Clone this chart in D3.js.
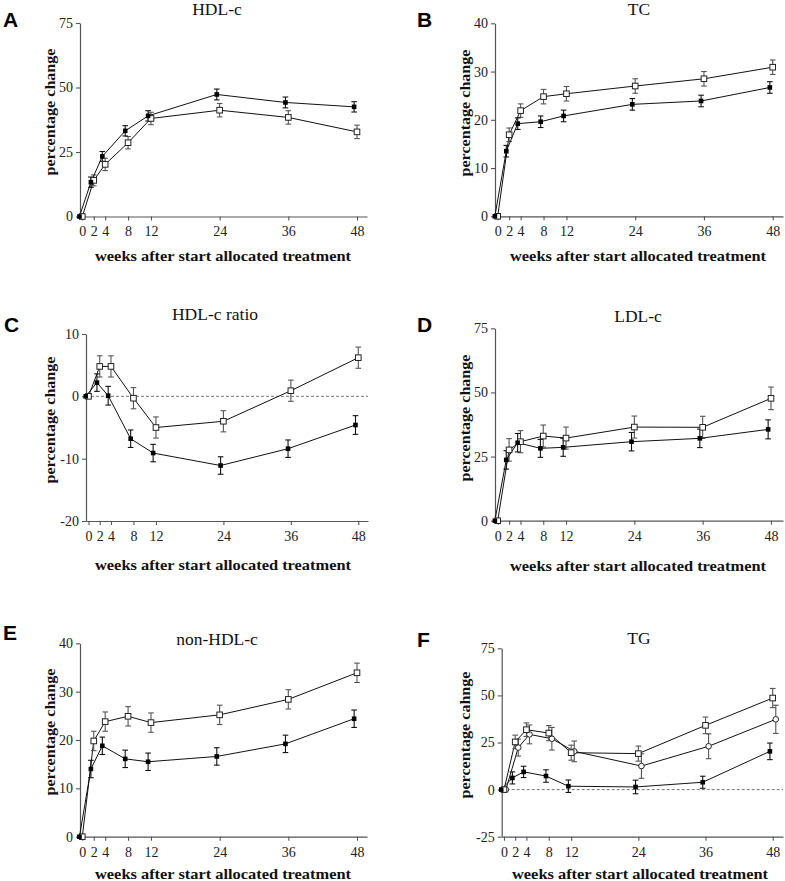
<!DOCTYPE html>
<html><head><meta charset="utf-8">
<script src="https://cdn.jsdelivr.net/npm/d3@7/dist/d3.min.js"></script>
<style>
html,body{margin:0;padding:0;background:#fff;}
svg{display:block;}
</style></head>
<body>
<svg id="chart" width="785" height="881"></svg>
<script>
// ---------- data ----------
const weeks = [0, 2, 4, 8, 12, 24, 36, 48];
const xTickLabels = [0, 2, 4, 8, 12, 24, 36, 48];
const xAxisLabel = "weeks after start allocated treatment";

// A: HDL-c
const hdlFilled    = [0, 13.3, 23.3, 33.2, 39.0, 47.3, 44.2, 42.5];
const hdlFilledErr = [0, 2.0, 1.9, 2.0, 2.0, 2.1, 2.1, 2.0];
const hdlOpen      = [0, 14.0, 20.2, 28.6, 38.0, 41.2, 38.4, 32.8];
const hdlOpenErr   = [0, 2.1, 2.4, 2.4, 2.4, 2.6, 2.6, 2.6];
const hdlYTicks    = [0, 25, 50, 75];

// B: TC
const tcFilled    = [0, 13.5, 19.2, 19.6, 20.8, 23.2, 23.9, 26.7];
const tcFilledErr = [0, 1.2, 1.2, 1.2, 1.2, 1.2, 1.2, 1.2];
const tcOpen      = [0, 16.9, 21.9, 24.8, 25.4, 27.0, 28.5, 30.9];
const tcOpenErr   = [0, 1.4, 1.4, 1.5, 1.5, 1.5, 1.5, 1.5];
const tcYTicks    = [0, 10, 20, 30, 40];

// C: HDL-c ratio
const ratioFilled    = [0, 2.2, 0.1, -6.8, -9.1, -11.1, -8.4, -4.6];
const ratioFilledErr = [0, 1.4, 1.5, 1.4, 1.4, 1.4, 1.4, 1.5];
const ratioOpen      = [0, 4.8, 4.8, -0.3, -5.0, -4.0, 0.9, 6.2];
const ratioOpenErr   = [0, 1.7, 1.7, 1.7, 1.7, 1.7, 1.7, 1.7];
const ratioYTicks    = [-20, -10, 0, 10];

// D: LDL-c
const ldlFilled    = [0, 23.7, 30.4, 28.2, 28.6, 30.8, 32.1, 35.6];
const ldlFilledErr = [0, 3.6, 3.6, 3.5, 3.5, 3.6, 3.6, 3.7];
const ldlOpen      = [0, 27.6, 30.8, 33.0, 32.2, 36.5, 36.4, 47.7];
const ldlOpenErr   = [0, 4.4, 4.3, 4.3, 4.3, 4.3, 4.3, 4.4];
const ldlYTicks    = [0, 25, 50, 75];

// E: non-HDL-c
const nonHdlFilled    = [0, 14.0, 18.8, 16.1, 15.5, 16.6, 19.2, 24.4];
const nonHdlFilledErr = [0, 1.8, 1.8, 1.8, 1.8, 1.8, 1.8, 1.8];
const nonHdlOpen      = [0, 19.8, 23.8, 24.9, 23.6, 25.2, 28.4, 33.9];
const nonHdlOpenErr   = [0, 2.0, 2.0, 2.0, 2.0, 2.0, 2.0, 2.0];
const nonHdlYTicks    = [0, 10, 20, 30, 40];

// F: TG
const tgFilled       = [0, 6.2, 9.4, 7.2, 1.8, 1.4, 3.9, 20.3];
const tgFilledErr    = [0, 3.2, 3.0, 3.3, 3.3, 3.6, 3.2, 4.4];
const tgOpenSq       = [0, 25.3, 31.8, 30.0, 19.6, 19.1, 34.1, 48.6];
const tgOpenSqErr    = [0, 3.6, 3.6, 4.0, 4.0, 4.0, 4.4, 5.1];
const tgOpenCirc     = [0, 22.3, 29.3, 27.0, 20.3, 12.5, 23.0, 37.3];
const tgOpenCircErr  = [0, 4.5, 5.0, 6.0, 5.5, 6.5, 6.6, 7.5];
const tgYTicks       = [-25, 0, 25, 50, 75];

// ---------- layout ----------
const panels = [
  { letter:"A", title:"HDL-c", ylabel:"percentage change", yDomain:[0,75], yTicks:hdlYTicks,
    left:80, x0:82.3, x48:357, right:367, yBottom:216.5, yTop:23,
    letterPos:[3,26.5], titlePos:[217,14.5], ylabPos:[50,112], xlabPos:[223,261], zeroLine:false,
    series:[ {v:hdlOpen, e:hdlOpenErr, type:"sq-open", dodge:0},
             {v:hdlFilled, e:hdlFilledErr, type:"sq-filled", dodge:-0.5} ] },
  { letter:"B", title:"TC", ylabel:"percentage change", yDomain:[0,40], yTicks:tcYTicks,
    left:495, x0:497.7, x48:772.7, right:783, yBottom:216.3, yTop:23.3,
    letterPos:[417,26.5], titlePos:[639,14.5], ylabPos:[465,113], xlabPos:[638,261], zeroLine:false,
    series:[ {v:tcOpen, e:tcOpenErr, type:"sq-open", dodge:0},
             {v:tcFilled, e:tcFilledErr, type:"sq-filled", dodge:-0.5} ] },
  { letter:"C", title:"HDL-c ratio", ylabel:"percentage change", yDomain:[-20,10], yTicks:ratioYTicks,
    left:86, x0:88.5, x48:358.3, right:368, yBottom:521, yTop:334,
    letterPos:[4,332], titlePos:[215,320], ylabPos:[50,420], xlabPos:[223,569.5], zeroLine:true,
    series:[ {v:ratioOpen, e:ratioOpenErr, type:"sq-open", dodge:0},
             {v:ratioFilled, e:ratioFilledErr, type:"sq-filled", dodge:-0.5} ] },
  { letter:"D", title:"LDL-c", ylabel:"percentage change", yDomain:[0,75], yTicks:ldlYTicks,
    left:495, x0:497.7, x48:771, right:783, yBottom:520.7, yTop:328.3,
    letterPos:[417,332], titlePos:[638,321.5], ylabPos:[465,418], xlabPos:[638,570.5], zeroLine:false,
    series:[ {v:ldlOpen, e:ldlOpenErr, type:"sq-open", dodge:0},
             {v:ldlFilled, e:ldlFilledErr, type:"sq-filled", dodge:-0.5} ] },
  { letter:"E", title:"non-HDL-c", ylabel:"percentage change", yDomain:[0,40], yTicks:nonHdlYTicks,
    left:80, x0:82.3, x48:357, right:367, yBottom:836.7, yTop:643.3,
    letterPos:[3,640], titlePos:[217,645], ylabPos:[50,732], xlabPos:[223,879], zeroLine:false,
    series:[ {v:nonHdlOpen, e:nonHdlOpenErr, type:"sq-open", dodge:0},
             {v:nonHdlFilled, e:nonHdlFilledErr, type:"sq-filled", dodge:-0.5} ] },
  { letter:"F", title:"TG", ylabel:"percentage cahnge", yDomain:[-25,75], yTicks:tgYTicks,
    left:501.7, x0:504, x48:772.7, right:783, yBottom:836.7, yTop:648.3,
    letterPos:[417,647], titlePos:[639,644], ylabPos:[465,735], xlabPos:[640,879], zeroLine:true,
    series:[ {v:tgOpenCirc, e:tgOpenCircErr, type:"circ-open", dodge:0.55},
             {v:tgOpenSq, e:tgOpenSqErr, type:"sq-open", dodge:0},
             {v:tgFilled, e:tgFilledErr, type:"sq-filled", dodge:-0.5} ] }
];

const svg = d3.select("#chart");
const SERIF = "'Liberation Serif','Times New Roman',serif";
const SANS = "'Liberation Sans',Arial,sans-serif";
const AXIS_COLOR = "#555";
const plainFmt = d => String(d);

panels.forEach(p => {
  const g = svg.append("g");
  const x = d3.scaleLinear().domain([0,48]).range([p.x0, p.x48]);
  const xa = d3.scaleLinear().domain([x.invert(p.left), x.invert(p.right)]).range([p.left, p.right]);
  const y = d3.scaleLinear().domain(p.yDomain).range([p.yBottom, p.yTop]);

  // axes
  const xAxis = g.append("g").attr("transform", `translate(0,${p.yBottom})`)
    .call(d3.axisBottom(xa).tickValues(xTickLabels).tickFormat(plainFmt).tickSize(4).tickSizeOuter(0).tickPadding(6));
  const yAxis = g.append("g").attr("transform", `translate(${p.left},0)`)
    .call(d3.axisLeft(y).tickValues(p.yTicks).tickFormat(plainFmt).tickSize(4).tickSizeOuter(0).tickPadding(3));
  [xAxis, yAxis].forEach(a => {
    a.attr("font-family", null).attr("font-size", null);
    a.select(".domain").attr("stroke", AXIS_COLOR).attr("stroke-width", 1.2);
    a.selectAll(".tick line").attr("stroke", AXIS_COLOR).attr("stroke-width", 1.1);
    a.selectAll(".tick text").attr("fill", "#222").style("font-family", SERIF).style("font-size", "14px");
  });

  if (p.zeroLine) {
    g.append("line").attr("x1", p.left).attr("x2", p.right)
      .attr("y1", y(0)).attr("y2", y(0))
      .attr("stroke", "#777").attr("stroke-width", 1).attr("stroke-dasharray", "3,2");
  }

  // lines + error bars
  p.series.forEach(s => {
    const pts = weeks.map((w, i) => ({ x: x(w + (i === 0 && s.dodge > 0 ? s.dodge * 0.6 : s.dodge)), v: s.v[i], e: s.e[i] }));
    const barColor = s.type === "sq-filled" ? "#111" : "#555";
    g.append("path").datum(pts)
      .attr("d", d3.line().x(d => d.x).y(d => y(d.v)))
      .attr("fill", "none").attr("stroke", "#111").attr("stroke-width", 1);
    const eb = g.append("g").attr("stroke", barColor).attr("stroke-width", 1.1);
    pts.filter(d => d.e > 0).forEach(d => {
      eb.append("line").attr("x1", d.x).attr("x2", d.x).attr("y1", y(d.v - d.e)).attr("y2", y(d.v + d.e));
      eb.append("line").attr("x1", d.x - 2.8).attr("x2", d.x + 2.8).attr("y1", y(d.v - d.e)).attr("y2", y(d.v - d.e));
      eb.append("line").attr("x1", d.x - 2.8).attr("x2", d.x + 2.8).attr("y1", y(d.v + d.e)).attr("y2", y(d.v + d.e));
    });
    s.pts = pts;
  });
  // markers on top
  p.series.forEach(s => {
    const mg = g.append("g");
    s.pts.forEach(d => {
      if (s.type === "sq-filled") {
        mg.append("rect").attr("x", d.x - 2.3).attr("y", y(d.v) - 2.3).attr("width", 4.6).attr("height", 4.6).attr("fill", "#000");
      } else if (s.type === "sq-open") {
        mg.append("rect").attr("x", d.x - 2.8).attr("y", y(d.v) - 2.8).attr("width", 5.6).attr("height", 5.6)
          .attr("fill", "#fff").attr("stroke", "#222").attr("stroke-width", 1);
      } else {
        mg.append("circle").attr("cx", d.x).attr("cy", y(d.v)).attr("r", 2.8)
          .attr("fill", "#fff").attr("stroke", "#222").attr("stroke-width", 1);
      }
    });
  });

  // texts
  g.append("text").attr("x", p.letterPos[0]).attr("y", p.letterPos[1]).text(p.letter)
    .style("font-family", SANS).style("font-weight", "bold").style("font-size", "21px").attr("fill", "#000");
  g.append("text").attr("x", p.titlePos[0]).attr("y", p.titlePos[1]).attr("text-anchor", "middle").text(p.title)
    .style("font-family", SERIF).style("font-size", "17.5px").attr("fill", "#111");
  g.append("text").attr("transform", `translate(${p.ylabPos[0]},${p.ylabPos[1]}) rotate(-90)`)
    .attr("text-anchor", "middle").attr("dominant-baseline", "central").text(p.ylabel)
    .attr("textLength", 127).attr("lengthAdjust", "spacingAndGlyphs")
    .style("font-family", SERIF).style("font-weight", "bold").style("font-size", "15px").attr("fill", "#111");
  g.append("text").attr("x", p.xlabPos[0]).attr("y", p.xlabPos[1]).attr("text-anchor", "middle").text(xAxisLabel)
    .attr("textLength", 256).attr("lengthAdjust", "spacingAndGlyphs")
    .style("font-family", SERIF).style("font-weight", "bold").style("font-size", "14.5px").attr("fill", "#111");
});
</script>
</body></html>
